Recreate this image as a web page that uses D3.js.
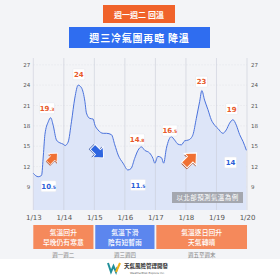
<!DOCTYPE html>
<html>
<head>
<meta charset="utf-8">
<script src="https://cdn.jsdelivr.net/npm/d3@7"></script>
<style>
  body { margin:0; background:#f3f4f7; }
  svg { display:block; font-family:"Noto Sans CJK TC","Noto Sans",sans-serif; }
</style>
</head>
<body>
<svg id="chart" width="280" height="280"></svg>
<script>
// ---- data ----
// time in days since 1/13 00:00, temp in deg C
var days  = [0,0.16,0.27,0.33,0.38,0.49,0.57,0.65,0.76,0.87,0.98,1.04,1.14,1.25,1.36,1.47,1.58,1.69,1.74,1.85,1.96,2.02,2.12,2.29,2.4,2.56,2.67,2.78,2.94,3.1,3.2,3.32,3.43,3.54,3.65,3.81,3.92,3.98,4.08,4.2,4.27,4.36,4.52,4.63,4.74,4.85,4.96,5.07,5.17,5.23,5.34,5.45,5.52,5.61,5.72,5.83,5.94,6.05,6.21,6.32,6.43,6.54,6.65,6.76,6.87,6.98];
var temps = [11.0,10.5,10.7,13.7,16.7,18.6,19.2,18.1,15.9,15.5,15.3,15.1,15.6,18.6,22.1,24.0,23.6,21.6,19.9,19.1,19.0,18.1,17.4,16.9,16.9,16.7,15.2,13.7,12.5,11.5,11.7,13.2,14.4,14.9,14.4,14.0,13.2,12.5,13.5,13.3,12.5,14.7,16.4,15.9,15.3,15.2,15.8,15.9,16.2,16.7,19.1,21.6,23.2,21.8,20.4,18.9,18.1,17.6,16.9,17.4,18.4,18.9,18.1,16.7,15.7,14.4];
var dayLabels = ["1/13","1/14","1/15","1/16","1/17","1/18","1/19","1/20"];
var yTicks = [9,12,15,18,21,24,27];

// value call-outs: [day, temp, main, decimal, kind]
var callouts = [
  [0.45, 20.6, "19", ".3", "hi"],
  [1.49, 25.6, "24", "", "hi"],
  [0.5, 9.1, "10", ".5", "lo"],
  [3.4, 16.0, "14", ".8", "hi"],
  [3.43, 9.3, "11", ".5", "lo"],
  [4.47, 17.3, "16", ".5", "hi"],
  [5.51, 24.5, "23", "", "hi"],
  [6.5, 20.5, "19", "", "hi"],
  [6.46, 12.6, "14", "", "lo"]
];
// trend arrows: [day, temp, direction, size]
var arrows = [[0.62, 13.2, "up", 1.15], [2.1, 14.2, "down", 1.35], [5.12, 13.0, "up", 1.5]];

var notes = [
  {from:0, to:1.97, l1:"氣溫回升", l2:"早晚仍有寒意", sub:"週一週二", color:"#f5895b"},
  {from:2.03, to:3.97, l1:"氣溫下滑", l2:"陰有短暫雨", sub:"週三週四", color:"#5c86ee"},
  {from:4.03, to:7, l1:"氣溫逐日回升", l2:"天氣轉晴", sub:"週五至週末", color:"#f5895b"}
];

var orange = "#e8592b", blue = "#2c5fd8";

var svg = d3.select("#chart");

var x = d3.scaleLinear().domain([0, 7]).range([33.3, 247]);
var y = d3.scaleLinear().domain([5.6, 28]).range([210, 58]);

// title boxes
svg.append("rect").attr("x", 103).attr("y", 5).attr("width", 72).attr("height", 18).attr("fill", "#f0622a");
svg.append("text").attr("x", 139).attr("y", 17.5).attr("text-anchor", "middle")
  .attr("font-size", 8).attr("font-weight", "bold").attr("fill", "#fff").text("週一週二 回溫");
svg.append("rect").attr("x", 69).attr("y", 27).attr("width", 141).attr("height", 21).attr("fill", "#2f6df0");
svg.append("text").attr("x", 139.5).attr("y", 41.5).attr("text-anchor", "middle")
  .attr("font-size", 10).attr("font-weight", "bold").attr("letter-spacing", 0.8).attr("fill", "#fff").text("週三冷氣團再臨 降溫");

var g = svg.append("g");

// horizontal grid
g.selectAll(".hg").data(yTicks).enter().append("line")
  .attr("x1", x(0)).attr("x2", x(7))
  .attr("y1", function(d){ return y(d); }).attr("y2", function(d){ return y(d); })
  .attr("stroke", "#e2e4ea").attr("stroke-width", 0.6).attr("stroke-dasharray", "1.5,1.5");

// area + line
var pts = days.map(function(d, i){ return [d, temps[i]]; });
var area = d3.area().x(function(d){ return x(d[0]); }).y0(y(5.6)).y1(function(d){ return y(d[1]); }).curve(d3.curveMonotoneX);
var line = d3.line().x(function(d){ return x(d[0]); }).y(function(d){ return y(d[1]); }).curve(d3.curveMonotoneX);
g.append("path").datum(pts).attr("d", area).attr("fill", "#dde5f8");

// vertical grid per day
g.selectAll(".vg").data(d3.range(0, 8)).enter().append("line")
  .attr("x1", function(d){ return x(d); }).attr("x2", function(d){ return x(d); })
  .attr("y1", 58).attr("y2", 210)
  .attr("stroke", "#c9cdd8").attr("stroke-width", 0.6);

g.append("path").datum(pts).attr("d", line).attr("fill", "none").attr("stroke", "#4a72dc").attr("stroke-width", 1);

// y axes both sides
var yLeft = d3.axisLeft(y).tickValues(yTicks).tickSize(0).tickPadding(3);
var yRight = d3.axisRight(y).tickValues(yTicks).tickSize(0).tickPadding(4);
var gl = svg.append("g").attr("transform", "translate(" + x(0) + ",0)").call(yLeft);
var gr = svg.append("g").attr("transform", "translate(" + x(7) + ",0)").call(yRight);
[gl, gr].forEach(function(a){
  a.select(".domain").remove();
  a.selectAll("text").attr("font-size", 5.5).attr("fill", "#555").attr("font-family", "DejaVu Sans");
});

// x axis labels
var xa = d3.axisBottom(x).tickValues(d3.range(0, 8)).tickSize(0).tickPadding(4)
  .tickFormat(function(d){ return dayLabels[d]; });
var gx = svg.append("g").attr("transform", "translate(0,211)").call(xa);
gx.select(".domain").remove();
gx.selectAll("text").attr("font-size", 7).attr("fill", "#555").attr("font-family", "DejaVu Sans");

// call-out boxes
var co = svg.append("g").selectAll("g").data(callouts).enter().append("g")
  .attr("transform", function(d){ return "translate(" + x(d[0]) + "," + y(d[1]) + ")"; });
co.append("rect").attr("x", function(d){ return d[3] ? -7.5 : -6; }).attr("y", -5.5)
  .attr("width", function(d){ return d[3] ? 15 : 12; }).attr("height", 11).attr("rx", 1)
  .attr("fill", "#fff").attr("stroke", "#e6e8ee").attr("stroke-width", 0.6);
var ct = co.append("text").attr("y", 2.6).attr("text-anchor", "middle")
  .attr("font-family", "DejaVu Sans").attr("font-weight", "bold")
  .attr("fill", function(d){ return d[4] == "hi" ? orange : blue; });
ct.append("tspan").attr("font-size", 7).text(function(d){ return d[2]; });
ct.append("tspan").attr("font-size", 4.5).text(function(d){ return d[3]; });

// trend arrows
var arrowPath = "M-2.6,5 L-2.6,-0.5 L-5.5,-0.5 L0,-6.5 L5.5,-0.5 L2.6,-0.5 L2.6,5 Z";
var ag = svg.append("g").selectAll("g").data(arrows).enter().append("g")
  .attr("transform", function(d){ return "translate(" + x(d[0]) + "," + y(d[1]) + ") rotate(" + (d[2] == "up" ? 45 : 135) + ") scale(" + d[3] + ")"; });
ag.append("path").attr("d", arrowPath).attr("transform", "translate(0.6,0.8)")
  .attr("fill", function(d){ return d[2] == "up" ? "#a8401a" : "#1b3f99"; });
ag.append("path").attr("d", arrowPath)
  .attr("fill", function(d){ return d[2] == "up" ? "#f07033" : "#2f66e0"; })
  .attr("stroke", "#fff").attr("stroke-width", 0.7);

// region note
svg.append("rect").attr("x", 172).attr("y", 192).attr("width", 71).attr("height", 11).attr("fill", "#9a9ca2").attr("opacity", 0.85);
svg.append("text").attr("x", 207.5).attr("y", 200).attr("text-anchor", "middle")
  .attr("font-size", 6.5).attr("fill", "#fff").attr("letter-spacing", 0.4).text("以北部預測氣溫為例");

// bottom notes
var nb = svg.append("g").selectAll("g").data(notes).enter().append("g");
nb.append("rect").attr("x", function(d){ return x(d.from); }).attr("y", 225)
  .attr("width", function(d){ return x(d.to) - x(d.from); }).attr("height", 24)
  .attr("fill", function(d){ return d.color; });
nb.append("text").attr("x", function(d){ return (x(d.from) + x(d.to)) / 2; }).attr("y", 235)
  .attr("text-anchor", "middle").attr("font-size", 6.8).attr("font-weight", 500).attr("fill", "#fff").text(function(d){ return d.l1; });
nb.append("text").attr("x", function(d){ return (x(d.from) + x(d.to)) / 2; }).attr("y", 245)
  .attr("text-anchor", "middle").attr("font-size", 6.8).attr("font-weight", 500).attr("fill", "#fff").text(function(d){ return d.l2; });
nb.append("text").attr("x", function(d){ return (x(d.from) + x(d.to)) / 2; }).attr("y", 256.5)
  .attr("text-anchor", "middle").attr("font-size", 5.5).attr("fill", "#888").text(function(d){ return d.sub; });

// footer + logo
svg.append("rect").attr("x", 0).attr("y", 259).attr("width", 280).attr("height", 21).attr("fill", "#fff");
svg.append("path").attr("d", "M108,263 L111,272 L113.5,266 L116,272 L117.5,267").attr("fill", "none")
  .attr("stroke", "#1f8f9a").attr("stroke-width", 2);
svg.append("path").attr("d", "M116,272 L120,263").attr("stroke", "#f2b21b").attr("stroke-width", 2);
svg.append("text").attr("x", 124).attr("y", 268).attr("font-size", 5.5).attr("font-weight", "bold")
  .attr("fill", "#333").text("天氣風險管理開發");
svg.append("text").attr("x", 130).attr("y", 273.5).attr("font-size", 2.8)
  .attr("fill", "#555").attr("font-family", "DejaVu Sans").text("WeatherRisk Explore Inc.");
</script>
</body>
</html>
